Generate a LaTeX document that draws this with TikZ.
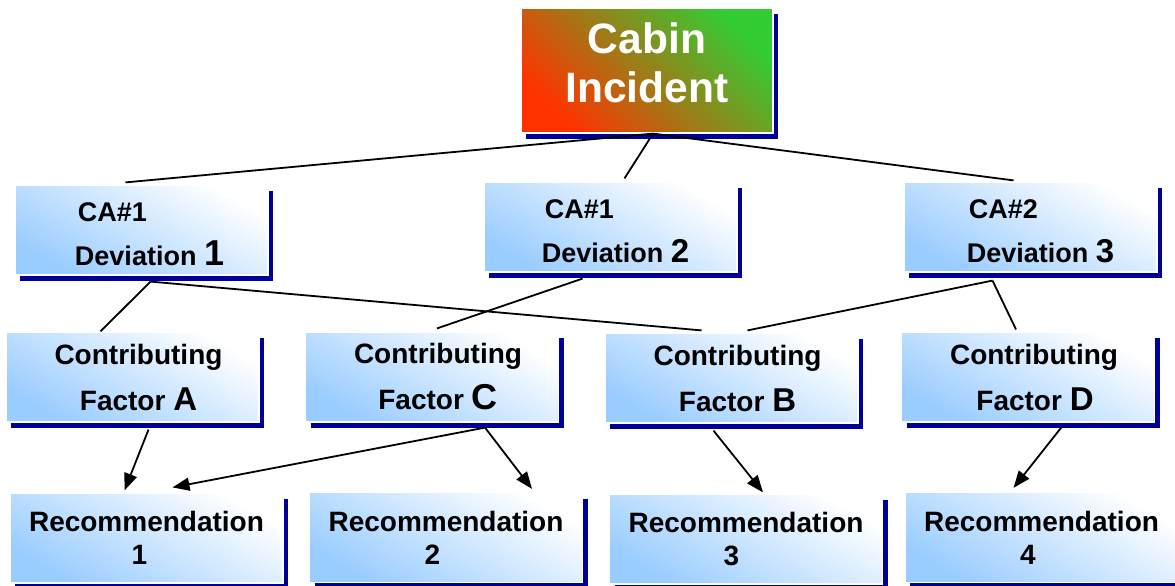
\documentclass[tikz,border=0pt]{standalone}
\usepackage{fontspec}
\setmainfont{Liberation Sans}
\usetikzlibrary{arrows.meta,shadows}
\definecolor{boxblue}{RGB}{153,204,255}
\definecolor{shadowblue}{RGB}{0,0,153}
\definecolor{incred}{RGB}{255,51,0}
\definecolor{incgreen}{RGB}{51,204,51}
\newcommand{\bignum}[2]{{\fontsize{#1}{#1}\selectfont #2}}
\tikzset{
	box/.style={rectangle,draw=white,line width=1.2pt,inner sep=0pt,
		minimum width=253pt,minimum height=90pt,
		top color=white,bottom color=boxblue,shading angle=-30,
		drop shadow={shadow xshift=5pt,shadow yshift=-6pt,fill=shadowblue,opacity=1},
		align=center,font=\fontsize{28}{46}\selectfont\bfseries},
	devbox/.style={box,align=left,font=\fontsize{27}{44}\selectfont\bfseries,text height=71pt},
	recbox/.style={box,minimum width=273pt,font=\fontsize{28}{33}\selectfont\bfseries},
	topbox/.style={box,minimum width=252pt,minimum height=125pt,
		top color=incgreen,bottom color=incred,shading angle=-45,
		text=white,text depth=16pt,font=\fontsize{42.5}{49}\selectfont\bfseries},
	link/.style={line width=1.8pt},
	arrow/.style={link,-{Triangle[length=17pt,width=13pt]}}
}
\begin{document}
\begin{tikzpicture}[x=1pt,y=-1pt]
		\useasboundingbox (0,0) rectangle (1175,586);
		%incident
		\node[topbox] (inc) at (647,70.5) {Cabin\\Incident};
		%deviations
		\node[devbox] (dev1) at (141.5,230) {\hspace*{19pt}CA\#1\\\hspace*{16pt}Deviation \bignum{36}{1}};
		\node[devbox] (dev2) at (610.5,227) {\hspace*{13pt}CA\#1\\\hspace*{10pt}Deviation \bignum{33}{2}};
		\node[devbox] (dev3) at (1030.5,227) {\hspace*{22pt}CA\#2\\\hspace*{20pt}Deviation \bignum{33}{3}};
		%factors
		\node[box] (cfA) at (132.5,377) {\hspace*{12pt}Contributing\\\hspace*{12pt}Factor \bignum{33}{A}};
		\node[box] (cfC) at (432,377) {\hspace*{12pt}Contributing\\\hspace*{12pt}Factor \bignum{36}{C}};
		\node[box] (cfB) at (731.5,378) {\hspace*{12pt}Contributing\\\hspace*{12pt}Factor \bignum{33}{B}};
		\node[box] (cfD) at (1028,377) {\hspace*{12pt}Contributing\\\hspace*{14pt}Factor \bignum{33}{D}};
		%recommendations
		\node[recbox] (rec1) at (146.5,538) {Recommendation\\1\hspace*{14pt}};
		\node[recbox] (rec2) at (446,537.5) {Recommendation\\2\hspace*{27pt}};
		\node[recbox] (rec3) at (746,539) {Recommendation\\3\hspace*{29pt}};
		\node[recbox] (rec4) at (1041.5,537.5) {Recommendation\\4\hspace*{27pt}};
		%junctions
		\coordinate (j0) at ([xshift=6pt]inc.south);
		\coordinate (j1) at ([xshift=9pt,yshift=-6pt]dev1.south);
		\coordinate (j2) at ([xshift=-28pt,yshift=-6pt]dev2.south);
		\coordinate (j3) at ([xshift=-38pt,yshift=-8pt]dev3.south);
		\coordinate (jC) at ([xshift=53pt,yshift=-5pt]cfC.south);
		%links
		\draw[link] (j0)--([xshift=-16pt,yshift=2pt]dev1.north) ;
		\draw[link] (j0)--([xshift=14pt,yshift=3pt]dev2.north) ;
		\draw[link] (j0)--([xshift=-17pt,yshift=1pt]dev3.north) ;
		\draw[link] (j1)--([xshift=-32pt]cfA.north) ;
		\draw[link] (j1)--([xshift=-30pt,yshift=2pt]cfB.north) ;
		\draw[link] (j2)--([xshift=5pt,yshift=3pt]cfC.north) ;
		\draw[link] (j3)--([xshift=16pt,yshift=2pt]cfB.north) ;
		\draw[link] (j3)--([xshift=-12pt,yshift=2pt]cfD.north) ;
		%arrows
		\draw[arrow] ([xshift=16pt,yshift=-7pt]cfA.south)--([xshift=-22pt,yshift=2pt]rec1.north) ;
		\draw[arrow] (jC)--([xshift=26pt,yshift=5pt]rec1.north) ;
		\draw[arrow] (jC)--([xshift=86pt,yshift=3pt]rec2.north) ;
		\draw[arrow] ([xshift=-18pt,yshift=-7pt]cfB.south)--([xshift=17pt,yshift=1pt]rec3.north) ;
		\draw[arrow] ([xshift=34pt,yshift=-4pt]cfD.south)--([xshift=-28pt,yshift=4pt]rec4.north) ;
	\end{tikzpicture}
\end{document}
